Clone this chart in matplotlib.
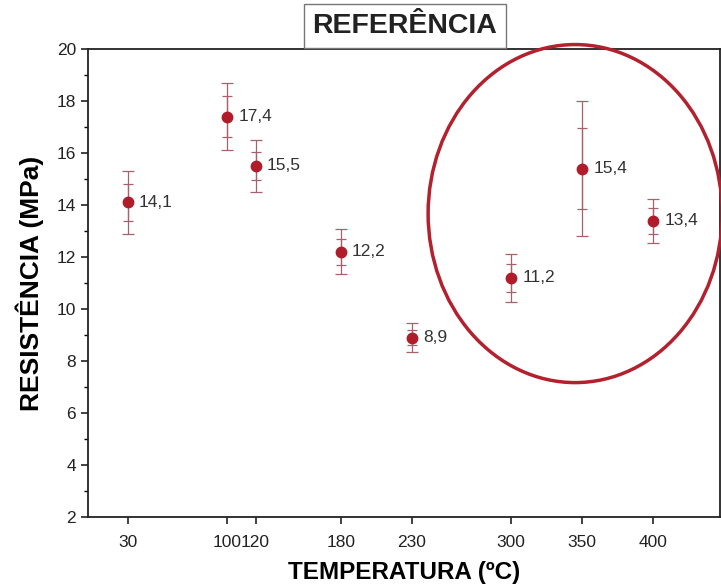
import matplotlib
matplotlib.use('Agg')
import matplotlib.pyplot as plt
from matplotlib.patches import Ellipse
from matplotlib.ticker import MultipleLocator

# values
temps = [30, 100, 120, 180, 230, 300, 350, 400]
resist = [14.1, 17.4, 15.5, 12.2, 8.9, 11.2, 15.4, 13.4]
err_outer = [1.2, 1.3, 1.0, 0.87, 0.55, 0.93, 2.6, 0.85]
err_inner = [0.7, 0.8, 0.55, 0.5, 0.3, 0.55, 1.55, 0.5]
labels = ['14,1', '17,4', '15,5', '12,2', '8,9', '11,2', '15,4', '13,4']

plt.rcParams['font.family'] = ['Liberation Sans']

fig = plt.figure(figsize=(7.21, 5.86), dpi=100)
ax = fig.add_axes([0.122, 0.1177, 0.8766, 0.7987])

red = '#b01c2a'
ebar = '#a8606c'

# outer and inner error bars
ax.errorbar(temps, resist, yerr=err_outer, fmt='none', ecolor=ebar,
            elinewidth=0.9, capsize=4.5, capthick=0.9, zorder=2)
ax.errorbar(temps, resist, yerr=err_inner, fmt='none', ecolor=ebar,
            elinewidth=0.9, capsize=3.5, capthick=0.9, zorder=2)
ax.plot(temps, resist, 'o', color=red, markersize=7.5, zorder=3)

for x, y, s in zip(temps, resist, labels):
    ax.annotate(s, (x, y), xytext=(8, 0), textcoords='offset points',
                va='center', ha='left', fontsize=12.5, color='#333333')

ax.set_xlim(2, 447)
ax.set_ylim(2, 20)
ax.set_xticks(temps)
ax.set_xticklabels([str(t) for t in temps])
ax.yaxis.set_major_locator(MultipleLocator(2))
ax.yaxis.set_minor_locator(MultipleLocator(1))
ax.tick_params(axis='both', which='major', direction='out', length=5,
               width=1.2, labelsize=12.5, colors='#222222')
ax.tick_params(axis='y', which='minor', direction='out', length=3, width=1)
ax.tick_params(axis='x', pad=8)

for sp in ax.spines.values():
    sp.set_linewidth(1.3)
    sp.set_color('#222222')

ax.set_xlabel('TEMPERATURA (ºC)', fontsize=17.5, fontweight='bold', labelpad=8)
ax.set_ylabel('RESISTÊNCIA (MPa)', fontsize=19, fontweight='bold', labelpad=9)

# highlight circle
circ = Ellipse((345, 13.67), 207, 13.0, fill=False, edgecolor='#b3202e',
               linewidth=2.5, clip_on=False, zorder=4)
ax.add_patch(circ)

fig.text(0.5617, 0.9556, 'REFERÊNCIA', ha='center', va='center',
         fontsize=20.5, fontweight='bold', color='#222222',
         bbox=dict(boxstyle='square,pad=0.3', facecolor='white',
                   edgecolor='#777777', linewidth=1))

fig.savefig('out.png', dpi=100)
